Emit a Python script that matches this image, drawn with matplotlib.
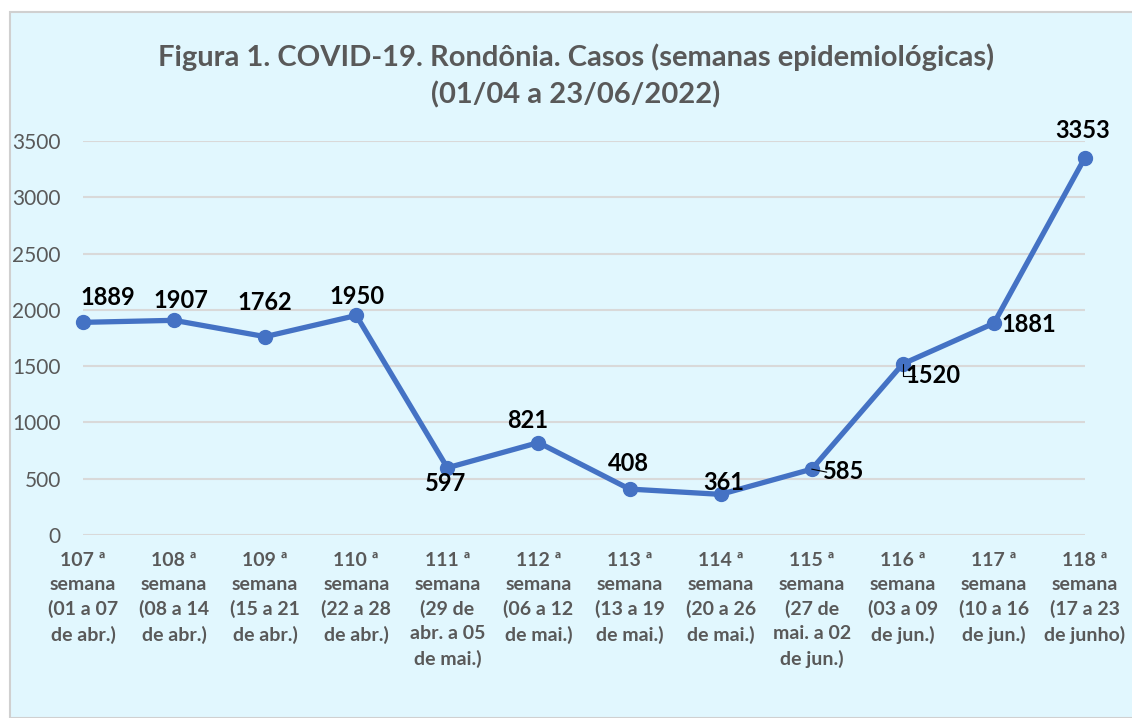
import matplotlib.pyplot as plt
from matplotlib.patches import Rectangle

plt.rcParams['font.family'] = ['Lato', 'DejaVu Sans']

semanas = ['107 ª\nsemana\n(01 a 07\nde abr.)', '108 ª\nsemana\n(08 a 14\nde abr.)',
           '109 ª\nsemana\n(15 a 21\nde abr.)', '110 ª\nsemana\n(22 a 28\nde abr.)',
           '111 ª\nsemana\n(29 de\nabr. a 05\nde mai.)', '112 ª\nsemana\n(06 a 12\nde mai.)',
           '113 ª\nsemana\n(13 a 19\nde mai.)', '114 ª\nsemana\n(20 a 26\nde mai.)',
           '115 ª\nsemana\n(27 de\nmai. a 02\nde jun.)', '116 ª\nsemana\n(03 a 09\nde jun.)',
           '117 ª\nsemana\n(10 a 16\nde jun.)', '118 ª\nsemana\n(17 a 23\nde junho)']
casos = [1889, 1907, 1762, 1950, 597, 821, 408, 361, 585, 1520, 1881, 3353]

# label offsets in pixels (dx, dy) relative to each point
offsets = [(25, 25), (7, 20), (0, 34), (1, 19), (-2, -16), (-11, 22),
           (-1, 26), (3, 12), (32, -2), (30, -12), (35, -1), (-2, 27)]

blue = '#4472C4'
gray = '#595959'
bg = '#E1F7FE'

fig = plt.figure(figsize=(11.32, 7.18), dpi=100, facecolor='white')
fig.patches.append(Rectangle((10 / 1132, 0), 1, 1 - 12 / 718, transform=fig.transFigure,
                             facecolor=bg, edgecolor='#D0D0D0', linewidth=1.5, zorder=-10))

ax = fig.add_axes([83 / 1132, 1 - 535 / 718, (1085 - 83) / 1132, (535 - 141) / 718])
ax.set_facecolor(bg)
ax.patch.set_alpha(0)

x = list(range(len(casos)))
ax.plot(x, casos, color=blue, linewidth=3.8, marker='o', markersize=10,
        solid_capstyle='round', zorder=3, clip_on=False)

for i, v in enumerate(casos):
    dx, dy = offsets[i]
    ax.annotate(str(v), (i, v), xytext=(dx, dy), textcoords='offset pixels',
                ha='center', va='center', fontsize=17, fontweight='bold', color='black', zorder=4)

# leader lines for 585 and 1520
ax.annotate('', (8, 585), xytext=(15, -3), textcoords='offset pixels',
            arrowprops=dict(arrowstyle='-', color='black', lw=0.8, shrinkA=0, shrinkB=0))
ax.annotate('', (9, 1520), xytext=(12, -12), textcoords='offset pixels',
            arrowprops=dict(arrowstyle='-', color='black', lw=0.8, shrinkA=0, shrinkB=0,
                            connectionstyle='angle,angleA=0,angleB=90,rad=0'))

ax.set_xlim(0, 11)
ax.set_ylim(0, 3500)
ax.set_yticks(range(0, 3501, 500))
ax.set_xticks(x)
ax.set_xticklabels(semanas, fontsize=14, fontweight='bold', color=gray, linespacing=1.5)
ax.tick_params(axis='y', labelsize=15, labelcolor=gray, length=0, pad=16)
ax.tick_params(axis='x', length=0, pad=12)
ax.grid(axis='y', color='#D9D9D9', linewidth=1.5)
ax.set_axisbelow(True)
for s in ax.spines.values():
    s.set_visible(False)

fig.text(576 / 1132, 1 - 76 / 718,
         'Figura 1. COVID-19. Rondônia. Casos (semanas epidemiológicas)\n(01/04 a 23/06/2022)',
         ha='center', va='center', fontsize=21, fontweight='bold', color=gray, linespacing=1.45)

fig.savefig('out.png', dpi=100, facecolor='white')
